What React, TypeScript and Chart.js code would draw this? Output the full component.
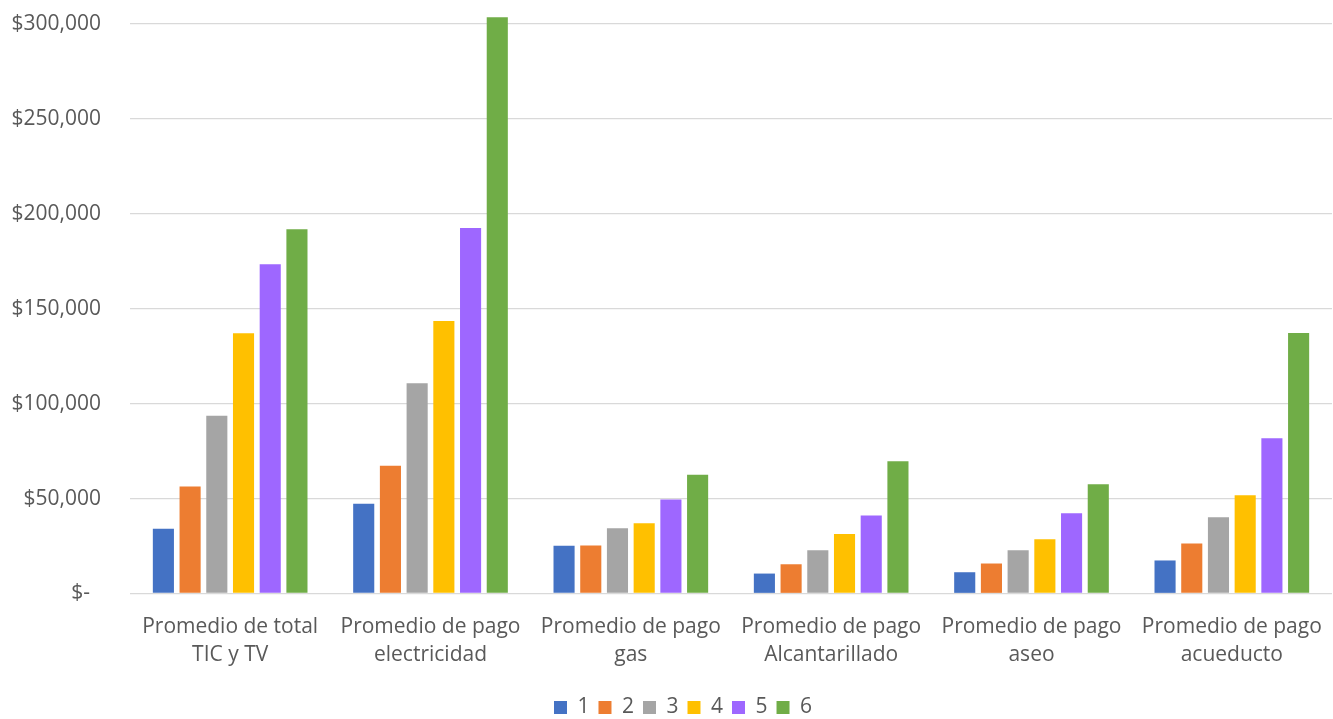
import React, { useEffect, useRef } from "react";
import { Chart, registerables } from "chart.js";

Chart.register(...registerables);

const categories: string[][] = [
  ["Promedio de total", "TIC y TV"],
  ["Promedio de pago", "electricidad"],
  ["Promedio de pago", "gas"],
  ["Promedio de pago", "Alcantarillado"],
  ["Promedio de pago", "aseo"],
  ["Promedio de pago", "acueducto"],
];

const seriesLabels = ["1", "2", "3", "4", "5", "6"];
const s1 = [34100, 47300, 25100, 10500, 11200, 17400];
const s2 = [56300, 67300, 25300, 15400, 15800, 26300];
const s3 = [93700, 110700, 34400, 22800, 22800, 40200];
const s4 = [137100, 143600, 37000, 31400, 28600, 51800];
const s5 = [173400, 192600, 49500, 41100, 42300, 81800];
const s6 = [191900, 303600, 62500, 69700, 57600, 137200];
const seriesValues = [s1, s2, s3, s4, s5, s6];
const colors = ["#4472C4", "#ED7D31", "#A5A5A5", "#FFC000", "#9E67FF", "#70AD47"];

const yMax = 300000;
const yStep = 50000;

const legendShift = {
  id: "legendShift",
  afterLayout(chart: any) {
    if (chart.legend) {
      chart.legend.left += 17;
      chart.legend.right += 17;
    }
  },
};

export default function App() {
  const ref = useRef<HTMLCanvasElement | null>(null);
  useEffect(() => {
    document.body.style.margin = "0";
    const font = "'Open Sans', sans-serif";
    const chart = new Chart(ref.current!, {
      type: "bar",
      data: {
        labels: categories,
        datasets: seriesValues.map((v, i) => ({
          label: seriesLabels[i],
          data: v,
          backgroundColor: colors[i],
          borderWidth: 0,
          categoryPercentage: 0.8,
          barPercentage: 0.79,
          clip: false as any,
        })),
      },
      plugins: [legendShift],
      options: {
        animation: false,
        responsive: false,
        maintainAspectRatio: false,
        layout: { padding: { top: 24, right: 1, left: 0, bottom: -9 } },
        plugins: {
          tooltip: { enabled: false },
          legend: {
            position: "bottom",
            labels: {
              boxWidth: 13,
              boxHeight: 13,
              padding: 9,
              color: "#595959",
              font: { family: font, size: 21 },
            },
          },
        },
        scales: {
          x: {
            grid: {
              display: true,
              drawOnChartArea: false,
              drawTicks: true,
              tickLength: 16,
              color: "rgba(0,0,0,0)",
            },
            border: { display: false },
            afterFit: (s: any) => {
              s.height = 94.5;
            },
            ticks: {
              color: "#595959",
              font: { family: font, size: 21, lineHeight: 1.36 },
              padding: 3,
              maxRotation: 0,
              autoSkip: false,
            },
          },
          y: {
            min: 0,
            max: yMax,
            grid: {
              color: "#D9D9D9",
              lineWidth: 1.3,
              drawTicks: true,
              tickLength: 26,
              tickColor: "rgba(0,0,0,0)",
            },
            border: { display: false },
            afterFit: (s: any) => {
              s.width = 130;
            },
            ticks: {
              stepSize: yStep,
              padding: 3,
              color: "#595959",
              font: { family: font, size: 21 },
              callback: (v: any) =>
                Number(v) === 0 ? "$-  " : "$" + Number(v).toLocaleString("en-US"),
            },
          },
        },
      },
    });
    return () => chart.destroy();
  }, []);
  return (
    <div style={{ width: 1333, height: 719, background: "#fff" }}>
      <canvas ref={ref} width={1333} height={719} style={{ display: "block" }} />
    </div>
  );
}
